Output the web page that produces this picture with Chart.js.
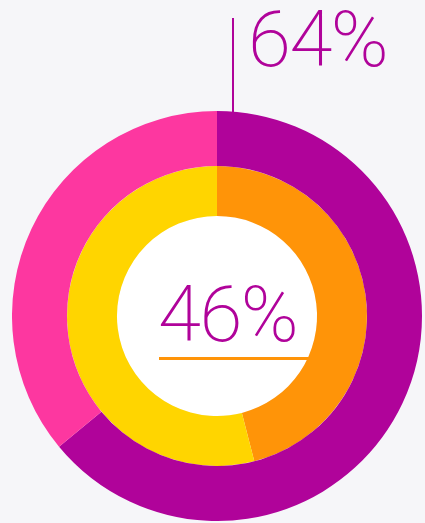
<!DOCTYPE html>
<html>
<head>
<meta charset="utf-8">
<script src="https://cdn.jsdelivr.net/npm/chart.js@4"></script>
<style>
  html, body { margin: 0; padding: 0; background: #f6f6f9; width: 425px; height: 523px; overflow: hidden; }
  #wrap { position: absolute; left: 12px; top: 111px; width: 410px; height: 410px; }
  .lbl { position: absolute; font-family: Roboto, "Open Sans", sans-serif; font-weight: 200; color: #b0039a; font-size: 78px; line-height: 1; white-space: nowrap; letter-spacing: -1.5px; }
  #l1 { left: 248px; top: 1px; }
  #l2 { left: 158px; top: 276px; }
  #vline { position: absolute; left: 232px; top: 18px; width: 2px; height: 94px; background: #b0039a; }
  #uline { position: absolute; left: 159px; top: 357px; width: 154px; height: 3px; background: #ff9408; }
</style>
</head>
<body>
<div id="vline"></div>
<div id="wrap"><canvas id="c"></canvas></div>
<div class="lbl" id="l1">64%</div>
<div class="lbl" id="l2">46%</div>
<div id="uline"></div>
<script>
const outerLabels = ["Share A", "Rest A"];
const outerValues = [64, 36];
const innerLabels = ["Share B", "Rest B"];
const innerValues = [46, 54];

const whiteHole = {
  id: 'whiteHole',
  beforeDatasetsDraw(chart) {
    const meta = chart.getDatasetMeta(1);
    const arc = meta.data[0];
    if (!arc) return;
    const ctx = chart.ctx;
    ctx.save();
    ctx.beginPath();
    ctx.arc(arc.x, arc.y, arc.innerRadius, 0, Math.PI * 2);
    ctx.fillStyle = '#ffffff';
    ctx.fill();
    ctx.restore();
  }
};

new Chart(document.getElementById('c'), {
  type: 'doughnut',
  data: {
    labels: outerLabels,
    datasets: [
      { data: outerValues, backgroundColor: ['#b0039a', '#fd37a0'], borderWidth: 0, weight: 55 },
      { data: innerValues, backgroundColor: ['#ff9408', '#ffd500'], borderWidth: 0, weight: 50 }
    ]
  },
  options: {
    responsive: true,
    maintainAspectRatio: false,
    animation: false,
    cutout: '48.8%',
    layout: { padding: 0 },
    plugins: { legend: { display: false }, tooltip: { enabled: false } }
  },
  plugins: [whiteHole]
});
</script>
</body>
</html>
